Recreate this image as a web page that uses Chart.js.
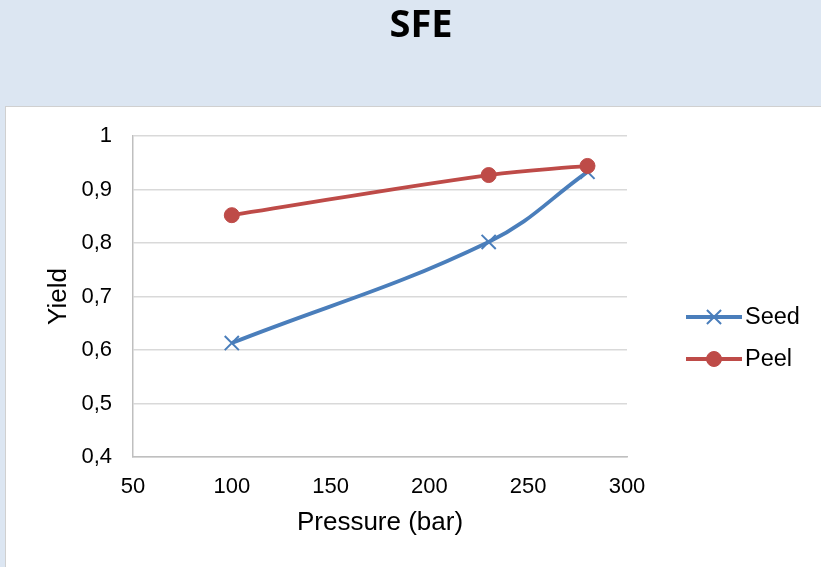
<!DOCTYPE html>
<html>
<head>
<meta charset="utf-8">
<script src="https://cdn.jsdelivr.net/npm/chart.js@4"></script>
<style>
  html, body { margin: 0; padding: 0; background: #dce6f2; }
  #wrap { width: 821px; height: 567px; }
</style>
</head>
<body>
<div id="wrap"><canvas id="lineChart" width="821" height="567"></canvas></div>
<script>
const pressure = [100, 230, 280]
const seedYield = [0.613, 0.802, 0.933]
const peelYield = [0.852, 0.927, 0.944]
const seriesNames = ['Seed', 'Peel']
const yTickLabels = ['0,4', '0,5', '0,6', '0,7', '0,8', '0,9', '1']
const xTickLabels = ['50', '100', '150', '200', '250', '300']
const chartTitle = 'SFE'

const blue = '#4a7ebb'
const red = '#be4b48'
const axisFont = '"Liberation Sans", Arial, sans-serif'

const toPoints = (xs, ys) => xs.map((x, i) => ({ x: x, y: ys[i] }))

// background, white panel and the title (centred on the whole picture)
const panelPlugin = {
  id: 'panel',
  beforeDraw(chart) {
    const ctx = chart.ctx
    ctx.save()
    ctx.fillStyle = '#dce6f2'
    ctx.fillRect(0, 0, chart.width, chart.height)
    ctx.fillStyle = '#ffffff'
    ctx.fillRect(5, 106, chart.width, chart.height)
    ctx.strokeStyle = '#d0d0d0'
    ctx.lineWidth = 1
    ctx.strokeRect(5.5, 106.5, chart.width, chart.height)
    ctx.fillStyle = '#000000'
    ctx.font = 'bold 38px "Open Sans", sans-serif'
    ctx.textAlign = 'center'
    ctx.textBaseline = 'middle'
    ctx.fillText(chartTitle, 421, 26)
    ctx.restore()
  }
}

// excel style legend: line with the marker in the middle
const legendPlugin = {
  id: 'sideLegend',
  afterDraw(chart) {
    const ctx = chart.ctx
    const rows = [317, 359]
    chart.data.datasets.forEach((ds, i) => {
      const y = rows[i]
      ctx.save()
      ctx.strokeStyle = ds.borderColor
      ctx.lineWidth = ds.borderWidth
      ctx.beginPath()
      ctx.moveTo(686, y)
      ctx.lineTo(742, y)
      ctx.stroke()
      ctx.fillStyle = ds.pointBackgroundColor
      ctx.strokeStyle = ds.pointBorderColor
      ctx.lineWidth = ds.pointBorderWidth
      Chart.helpers.drawPoint(ctx, {
        pointStyle: ds.pointStyle,
        radius: ds.pointRadius,
        borderWidth: ds.pointBorderWidth,
        rotation: 0
      }, 714, y)
      ctx.fillStyle = '#000000'
      ctx.font = '23.5px ' + axisFont
      ctx.textBaseline = 'middle'
      ctx.textAlign = 'left'
      ctx.fillText(ds.label, 745, y + 1)
      ctx.restore()
    })
  }
}

const lineChartCanvas = document.getElementById('lineChart')
const lineChart = new Chart(lineChartCanvas, {
  type: 'line',
  data: {
    datasets: [{
      label: seriesNames[0],
      data: toPoints(pressure, seedYield),
      borderColor: blue,
      backgroundColor: blue,
      borderWidth: 3.8,
      tension: 0.4,
      pointStyle: 'crossRot',
      pointRadius: 10,
      pointBorderWidth: 2,
      pointBorderColor: blue,
      pointBackgroundColor: blue,
      order: 1
    }, {
      label: seriesNames[1],
      data: toPoints(pressure, peelYield),
      borderColor: red,
      backgroundColor: red,
      borderWidth: 3.8,
      tension: 0.4,
      pointStyle: 'circle',
      pointRadius: 7.5,
      pointBorderWidth: 1,
      pointBorderColor: red,
      pointBackgroundColor: red,
      order: 0
    }]
  },
  options: {
    responsive: false,
    animation: false,
    layout: { padding: { left: 43, right: 194, top: 136, bottom: 0 } },
    plugins: {
      legend: { display: false },
      tooltip: { enabled: false },
      title: { display: false }
    },
    scales: {
      x: {
        type: 'linear',
        min: 50,
        max: 300,
        ticks: {
          stepSize: 50,
          padding: 17,
          color: '#000000',
          maxRotation: 0,
          font: { family: axisFont, size: 22 },
          callback: (v, i) => xTickLabels[i]
        },
        grid: { display: false, drawTicks: false },
        border: { display: true, color: '#bfbfbf', width: 1.5 },
        title: {
          display: true,
          text: 'Pressure (bar)',
          color: '#000000',
          font: { family: axisFont, size: 26 },
          padding: { top: 0, bottom: 29 }
        },
        afterFit: (scale) => { scale.height = 110 }
      },
      y: {
        min: 0.4,
        max: 1,
        ticks: {
          stepSize: 0.1,
          padding: 21,
          color: '#000000',
          font: { family: axisFont, size: 22 },
          callback: (v, i) => yTickLabels[i]
        },
        grid: { color: '#d9d9d9', lineWidth: 1.5, drawTicks: false },
        border: { display: true, color: '#bfbfbf', width: 1.5 },
        title: {
          display: true,
          text: 'Yield',
          color: '#000000',
          font: { family: axisFont, size: 26 },
          padding: { top: 0, bottom: 0 }
        },
        afterFit: (scale) => { scale.width = 133 - 43 }
      }
    }
  },
  plugins: [panelPlugin, legendPlugin]
})
</script>
</body>
</html>
